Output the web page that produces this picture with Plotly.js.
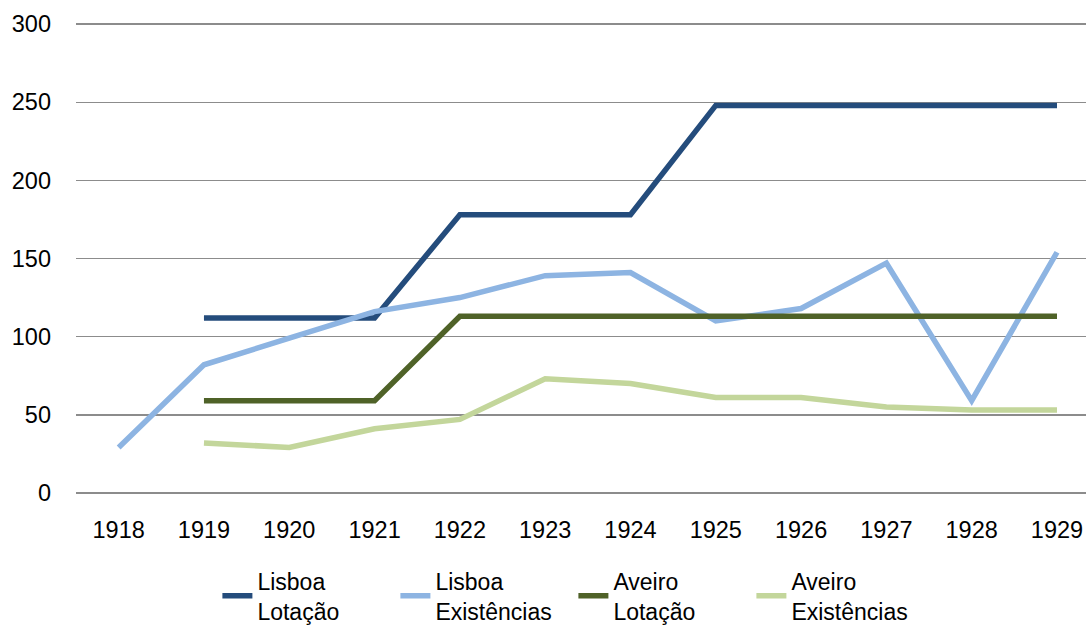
<!DOCTYPE html>
<html><head><meta charset="utf-8">
<script src="https://cdn.plot.ly/plotly-3.0.1.min.js"></script>
<style>html,body{margin:0;padding:0;background:#fff}#chart{width:1086px;height:627px}</style>
</head><body><div id="chart"></div>
<script>
var years = ['1918','1919','1920','1921','1922','1923','1924','1925','1926','1927','1928','1929'];
var lisboaLotacao = [null,112,112,112,178,178,178,248,248,248,248,248];
var lisboaExistencias = [29,82,99,116,125,139,141,110,118,147,59,154];
var aveiroLotacao = [null,59,59,59,113,113,113,113,113,113,113,113];
var aveiroExistencias = [null,32,29,41,47,73,70,61,61,55,53,53];
var seriesNames = ['Lisboa<br>Lotação','Lisboa<br>Existências','Aveiro<br>Lotação','Aveiro<br>Existências'];
var colors = ['#244c7c','#8db4e2','#4f6228','#c3d69b'];
var yTicks = [0,50,100,150,200,250,300];

var data = [lisboaLotacao, lisboaExistencias, aveiroLotacao, aveiroExistencias].map(function(v,i){
  return {x: years, y: v, type:'scatter', mode:'lines', name: seriesNames[i],
    line:{color: colors[i], width:5.5, shape:'linear'}, connectgaps:false};
});
var font = "'Liberation Sans', Arial, sans-serif";
var layout = {
  width:1086, height:627,
  margin:{l:76, r:0, t:21.4, b:130.9, autoexpand:false},
  paper_bgcolor:'#fff', plot_bgcolor:'#fff',
  font:{family:font, size:22, color:'#000'},
  xaxis:{type:'category', range:[-0.5, 11.34], showgrid:false, zeroline:false, showline:false, automargin:false,
    ticks:'', ticklabelstandoff:17, tickfont:{size:23.5, color:'#000'}},
  yaxis:{range:[-2,302], tickvals:yTicks, showgrid:true, gridcolor:'#8c8c8c', gridwidth:1.5, automargin:false,
    zeroline:false, showline:false, ticks:'', ticklabelstandoff:24, tickfont:{size:23.5,color:'#000'}},
  showlegend:true,
  legend:{orientation:'h', x:0.14, xanchor:'left', yref:'container', y:0.108, yanchor:'top',
    font:{size:23, color:'#000'}, entrywidth:133, traceorder:'normal', tracegroupgap:0}
};
Plotly.newPlot('chart', data, layout, {displayModeBar:false, staticPlot:true});
</script></body></html>
